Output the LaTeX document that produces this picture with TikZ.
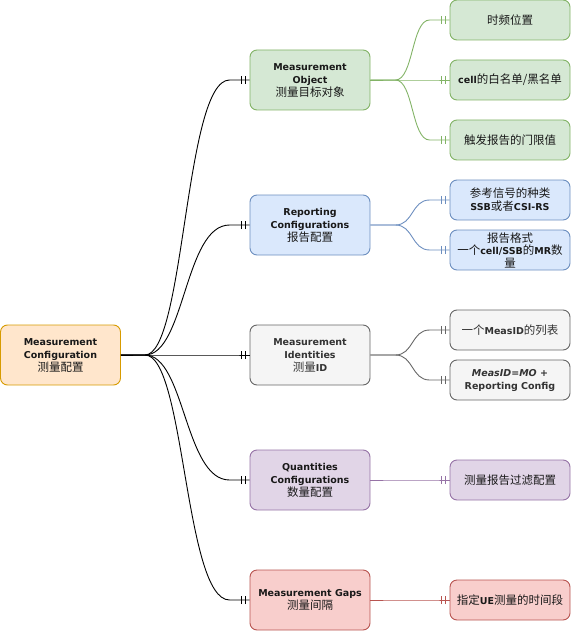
\documentclass[tikz,border=0pt]{standalone}
\usepackage{fontspec}
\setmainfont{DejaVu Sans}
\newfontfamily\cjkfam{Noto Sans CJK SC}
\newcommand\zhtxt[1]{{\cjkfam\mdseries\fontsize{11.5}{13}\selectfont #1}}
\usetikzlibrary{decorations.markings,calc}
\definecolor{orF}{HTML}{FFE6CC}\definecolor{orD}{HTML}{D79B00}
\definecolor{grF}{HTML}{D5E8D4}\definecolor{grD}{HTML}{82B366}
\definecolor{blF}{HTML}{DAE8FC}\definecolor{blD}{HTML}{6C8EBF}
\definecolor{gyF}{HTML}{F5F5F5}\definecolor{gyD}{HTML}{666666}
\definecolor{puF}{HTML}{E1D5E7}\definecolor{puD}{HTML}{9673A6}
\definecolor{reF}{HTML}{F8CECC}\definecolor{reD}{HTML}{B85450}
\tikzset{
  box/.style={draw, rounded corners=7pt, line width=0.9pt, minimum width=120pt,
    minimum height=60pt, inner sep=2pt, align=center,
    font=\bfseries\fontsize{9.5}{13}\selectfont, text=black!90},
  leaf/.style={box, minimum height=40pt},
  erlink/.style={draw=#1, line width=0.9pt, postaction={decorate},
    decoration={markings,
      mark=at position -4pt with {\draw[#1,line width=0.9pt] (0,-4pt)--(0,4pt);},
      mark=at position -8pt with {\draw[#1,line width=0.9pt] (0,-4pt)--(0,4pt);}}},
}
\begin{document}
\begin{tikzpicture}[x=1pt,y=-1pt]
\useasboundingbox (0,0) rectangle (571,631);
% main nodes
\node[box, fill=orF, draw=orD] (root) at (60.5,355) {Measurement\\Configuration\\\zhtxt{测量配置}};
\node[box, fill=grF, draw=grD] (mo) at (310,80) {Measurement\\Object\\\zhtxt{测量目标对象}};
\node[box, fill=blF, draw=blD] (rc) at (310,225) {Reporting\\Configurations\\\zhtxt{报告配置}};
\node[box, fill=gyF, draw=gyD, text=black!80] (mi) at (310,355) {Measurement\\Identities\\\zhtxt{测量}ID};
\node[box, fill=puF, draw=puD] (qc) at (310,480) {Quantities\\Configurations\\\zhtxt{数量配置}};
\node[box, fill=reF, draw=reD] (mg) at (310,600) {Measurement Gaps\\\zhtxt{测量间隔}};
% leaves
\node[leaf, fill=grF, draw=grD] (l1) at (510,20) {\zhtxt{时频位置}};
\node[leaf, fill=grF, draw=grD] (l2) at (510,80) {cell\zhtxt{的白名单/黑名单}};
\node[leaf, fill=grF, draw=grD] (l3) at (510,140) {\zhtxt{触发报告的门限值}};
\node[leaf, fill=blF, draw=blD] (l4) at (510,200) {\zhtxt{参考信号的种类}\\SSB\zhtxt{或者}CSI-RS};
\node[leaf, fill=blF, draw=blD, font=\bfseries\fontsize{9.5}{12.5}\selectfont] (l5) at (510,250) {\zhtxt{报告格式}\\\zhtxt{一个}cell/SSB\zhtxt{的}MR\zhtxt{数}\\\zhtxt{量}};
\node[leaf, fill=gyF, draw=gyD, text=black!80] (l6) at (510,330) {\zhtxt{一个}MeasID\zhtxt{的列表}};
\node[leaf, fill=gyF, draw=gyD, text=black!80] (l7) at (510,380) {\textit{MeasID=MO +}\\Reporting Config};
\node[leaf, fill=puF, draw=puD] (l8) at (510,480) {\zhtxt{测量报告过滤配置}};
\node[leaf, fill=reF, draw=reD] (l9) at (510,600) {\zhtxt{指定}UE\zhtxt{测量的时间段}};
% root connectors
\foreach \t in {mo,rc,mi,qc,mg}{
  \draw[erlink=black] (root.east) -- ++(24,0) .. controls +(40,0) and +(-45,0) .. ($(\t.west)+(-20,0)$) -- (\t.west);
}
% sub connectors
\foreach \s/\t/\c in {mo/l1/grD, mo/l2/grD, mo/l3/grD, rc/l4/blD, rc/l5/blD, mi/l6/gyD, mi/l7/gyD, qc/l8/puD, mg/l9/reD}{
  \draw[erlink=\c] (\s.east) -- ++(25,0) .. controls +(18,0) and +(-18,0) .. ($(\t.west)+(-20,0)$) -- (\t.west);
}
\end{tikzpicture}
\end{document}
